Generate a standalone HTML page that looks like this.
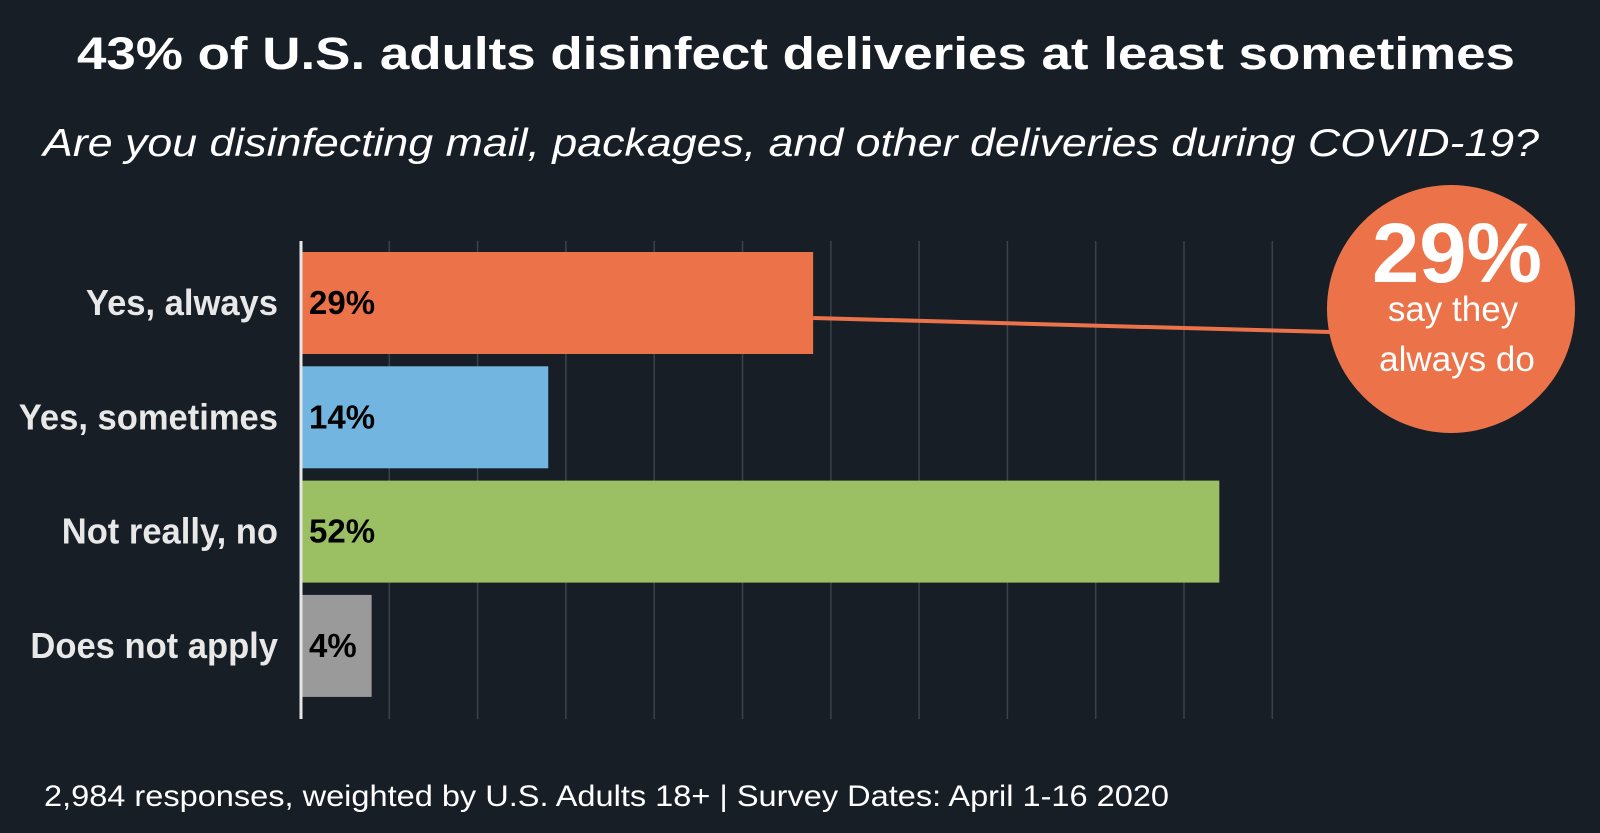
<!DOCTYPE html>
<html><head><meta charset="utf-8"><style>
html,body{margin:0;padding:0;background:#171e26;}
svg{display:block;}
</style></head><body>
<svg id="chart" width="1600" height="833" viewBox="0 0 1600 833" xmlns="http://www.w3.org/2000/svg" font-family="Liberation Sans, sans-serif">
<rect width="1600" height="833" fill="#171e26"/>
<text x="796" y="69" text-anchor="middle" fill="#fff" font-weight="bold" font-size="45" textLength="1438" lengthAdjust="spacingAndGlyphs">43% of U.S. adults disinfect deliveries at least sometimes</text>
<text x="791" y="156" text-anchor="middle" fill="#fff" font-style="italic" font-size="39" textLength="1496" lengthAdjust="spacingAndGlyphs">Are you disinfecting mail, packages, and other deliveries during COVID-19?</text>
<g id="grid"></g>
<g id="bars"></g>
<line x1="301" y1="241" x2="301" y2="719" stroke="#e6e6e6" stroke-width="3"/>
<g id="callout"></g>
<text x="44" y="806" fill="#fff" font-size="30" textLength="1125" lengthAdjust="spacingAndGlyphs">2,984 responses, weighted by U.S. Adults 18+ | Survey Dates: April 1-16 2020</text>
</svg>
<script>
const categories = ["Yes, always", "Yes, sometimes", "Not really, no", "Does not apply"];
const values = [29, 14, 52, 4];
const valueLabels = ["29%", "14%", "52%", "4%"];
const colors = ["#ec7349", "#72b5e0", "#9bbf63", "#9a9a9a"];
const gridTicks = [5, 10, 15, 20, 25, 30, 35, 40, 45, 50, 55];

const NS = "http://www.w3.org/2000/svg";
const x0 = 301, pxPer = 17.66, top0 = 246, band = 114.3, barH = 102, barOff = 6;
const xs = v => x0 + v * pxPer;
const ys = i => top0 + i * band + barOff;
function mk(tag, attrs, parent) {
  const e = document.createElementNS(NS, tag);
  for (const k in attrs) e.setAttribute(k, attrs[k]);
  parent.appendChild(e);
  return e;
}
const grid = document.getElementById('grid');
gridTicks.forEach(t => {
  const l = mk('line', {x1: xs(t), x2: xs(t), y1: 241, y2: 719, stroke: '#3a434d', 'stroke-width': 1.5}, grid);
  
  
});
const bars = document.getElementById('bars');
categories.forEach((c, i) => {
  const y = ys(i);
  const r = mk('rect', {x: x0, y: y, width: xs(values[i]) - x0, height: barH, fill: colors[i]}, bars);
  
  
  const lb = mk('text', {x: 278, y: y + barH / 2 + 12, 'text-anchor': 'end', fill: '#e8e8e8', 'font-weight': 'bold', 'font-size': 36, transform: 'translate(278 0) scale(0.96 1) translate(-278 0)'}, bars);
  lb.textContent = c;
  
  
  const vl = mk('text', {x: 309, y: y + barH / 2 + 11, fill: '#000', 'font-weight': 'bold', 'font-size': 33}, bars);
  vl.textContent = valueLabels[i];
  
  
});
const co = document.getElementById('callout');
const ln = mk('line', {x1: xs(values[0]), y1: ys(0) + 66, x2: 1330, y2: 332, stroke: '#ec7349', 'stroke-width': 4}, co);


const circ = mk('circle', {cx: 1451, cy: 309, r: 124, fill: '#ec7349'}, co);


const big = mk('text', {x: 1457, y: 282, 'text-anchor': 'middle', fill: '#fff', 'font-weight': 'bold', 'font-size': 84, textLength: 170, lengthAdjust: 'spacingAndGlyphs'}, co);
big.textContent = valueLabels[0];


const t1 = mk('text', {x: 1453, y: 321, 'text-anchor': 'middle', fill: '#fff', 'font-size': 35}, co);
t1.textContent = 'say they';


const t2 = mk('text', {x: 1457, y: 371, 'text-anchor': 'middle', fill: '#fff', 'font-size': 35}, co);
t2.textContent = 'always do';


</script>
</body></html>
